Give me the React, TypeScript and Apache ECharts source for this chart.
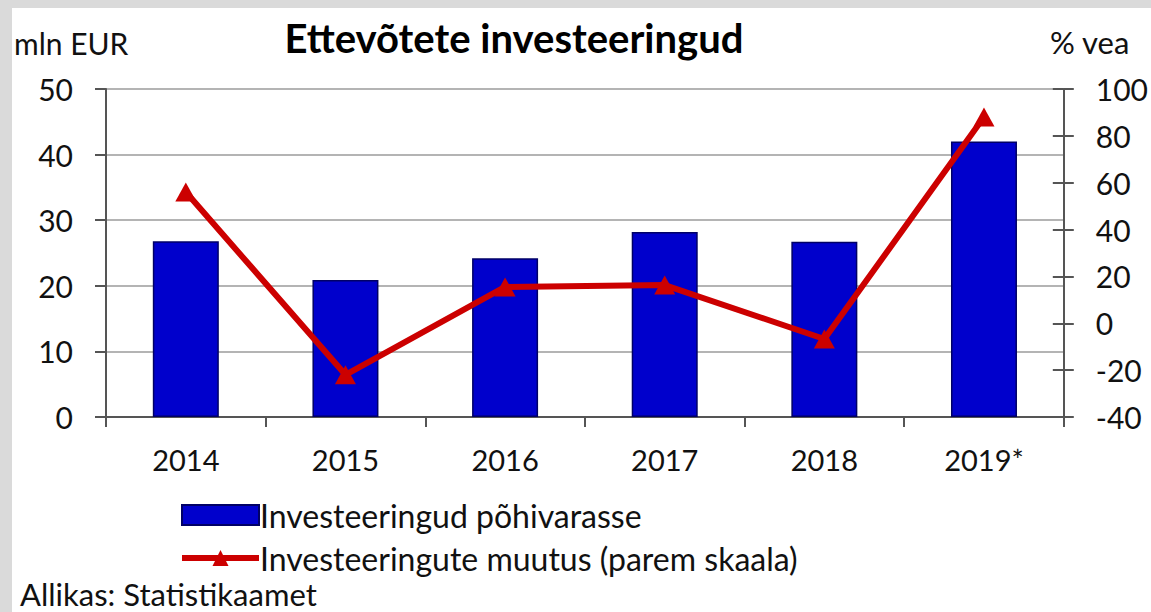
import React, { useEffect, useRef } from "react";
import * as echarts from "echarts";

const categories = ["2014", "2015", "2016", "2017", "2018", "2019*"];
const investments = [26.8, 20.9, 24.2, 28.2, 26.7, 42.0];
const changePct = [56, -22, 15.5, 16.3, -6.7, 88];
const leftTicks = { min: 0, max: 50, interval: 10 };
const rightTicks = { min: -40, max: 100, interval: 20 };
const barName = "Investeeringud põhivarasse";
const lineName = "Investeeringute muutus (parem skaala)";
const titleText = "Ettevõtete investeeringud";
const leftUnit = "mln EUR";
const rightUnit = "% vea";
const sourceText = "Allikas: Statistikaamet";

const FONT = "Lato";

export default function App() {
  const ref = useRef<HTMLDivElement>(null);
  useEffect(() => {
    if (!ref.current) return;
    const chart = echarts.init(ref.current, undefined, { renderer: "svg" });
    const axisColor = "#555555";
    chart.setOption({
      animation: false,
      backgroundColor: "#dadada",
      textStyle: { fontFamily: FONT, color: "#111" },
      graphic: [
        {
          type: "rect",
          z: -100,
          silent: true,
          shape: { x: 12, y: 8, width: 1151 - 12, height: 612 - 8 },
          style: { fill: "#ffffff" },
        },
        {
          type: "text",
          x: 514,
          y: 38,
          style: {
            text: titleText,
            font: `bold 40px ${FONT}`,
            fill: "#000",
            textAlign: "center",
            textVerticalAlign: "middle",
          },
        },
        {
          type: "text",
          x: 14,
          y: 43,
          style: {
            text: leftUnit,
            font: `30px ${FONT}`,
            fill: "#111",
            textAlign: "left",
            textVerticalAlign: "middle",
          },
        },
        {
          type: "text",
          x: 1050,
          y: 42,
          style: {
            text: rightUnit,
            font: `31px ${FONT}`,
            fill: "#111",
            textAlign: "left",
            textVerticalAlign: "middle",
          },
        },
        {
          type: "text",
          x: 20,
          y: 594,
          style: {
            text: sourceText,
            font: `31px ${FONT}`,
            fill: "#111",
            textAlign: "left",
            textVerticalAlign: "middle",
          },
        },
      ],
      legend: {
        orient: "vertical",
        left: 174,
        top: 493,
        itemWidth: 77,
        itemHeight: 20,
        itemGap: 9,
        textStyle: { fontFamily: FONT, fontSize: 32, color: "#111", lineHeight: 34, padding: [0, 0, 0, -4] },
        data: [
          { name: barName, icon: "rect" },
          { name: lineName, lineStyle: { width: 6, color: "#cc0000" } },
        ],
      },
      grid: { left: 106, right: 86, top: 89, bottom: 195 },
      xAxis: {
        type: "category",
        data: categories,
        boundaryGap: true,
        axisLine: { show: true, lineStyle: { color: axisColor, width: 2 } },
        axisTick: { show: true, inside: false, length: 10, lineStyle: { color: axisColor, width: 2 } },
        axisLabel: { fontFamily: FONT, fontSize: 29, color: "#111", margin: 28 },
      },
      yAxis: [
        {
          type: "value",
          position: "left",
          min: leftTicks.min,
          max: leftTicks.max,
          interval: leftTicks.interval,
          axisLine: { show: true, lineStyle: { color: axisColor, width: 2 } },
          axisTick: { show: true, inside: false, length: 11, lineStyle: { color: axisColor, width: 2 } },
          axisLabel: { fontFamily: FONT, fontSize: 30, color: "#111", margin: 33 },
          splitLine: { show: true, lineStyle: { color: "#b4b4b4", width: 2 } },
        },
        {
          type: "value",
          position: "right",
          min: rightTicks.min,
          max: rightTicks.max,
          interval: rightTicks.interval,
          axisLine: { show: true, lineStyle: { color: axisColor, width: 2 } },
          axisTick: { show: true, inside: false, length: 10, lineStyle: { color: axisColor, width: 2 } },
          axisLabel: { fontFamily: FONT, fontSize: 30, color: "#111", margin: 32 },
          splitLine: { show: false },
        },
        {
          type: "value",
          position: "right",
          min: rightTicks.min,
          max: rightTicks.max,
          interval: rightTicks.interval,
          axisLine: { show: false },
          axisTick: { show: true, inside: true, length: 11, lineStyle: { color: axisColor, width: 2 } },
          axisLabel: { show: false },
          splitLine: { show: false },
        },
      ],
      series: [
        {
          name: barName,
          type: "bar",
          yAxisIndex: 0,
          data: investments,
          barWidth: 66,
          itemStyle: { color: "#0000cc", borderColor: "#000066", borderWidth: 1.5 },
          z: 2,
        },
        {
          name: lineName,
          type: "line",
          yAxisIndex: 1,
          data: changePct,
          symbol: "triangle",
          symbolSize: [21, 19],
          lineStyle: { color: "#cc0000", width: 6 },
          itemStyle: { color: "#cc0000" },
          z: 3,
        },
      ],
    });
    return () => chart.dispose();
  }, []);
  return (
    <div
      ref={ref}
      style={{ position: "absolute", left: 0, top: 0, width: 1151, height: 612 }}
    />
  );
}
